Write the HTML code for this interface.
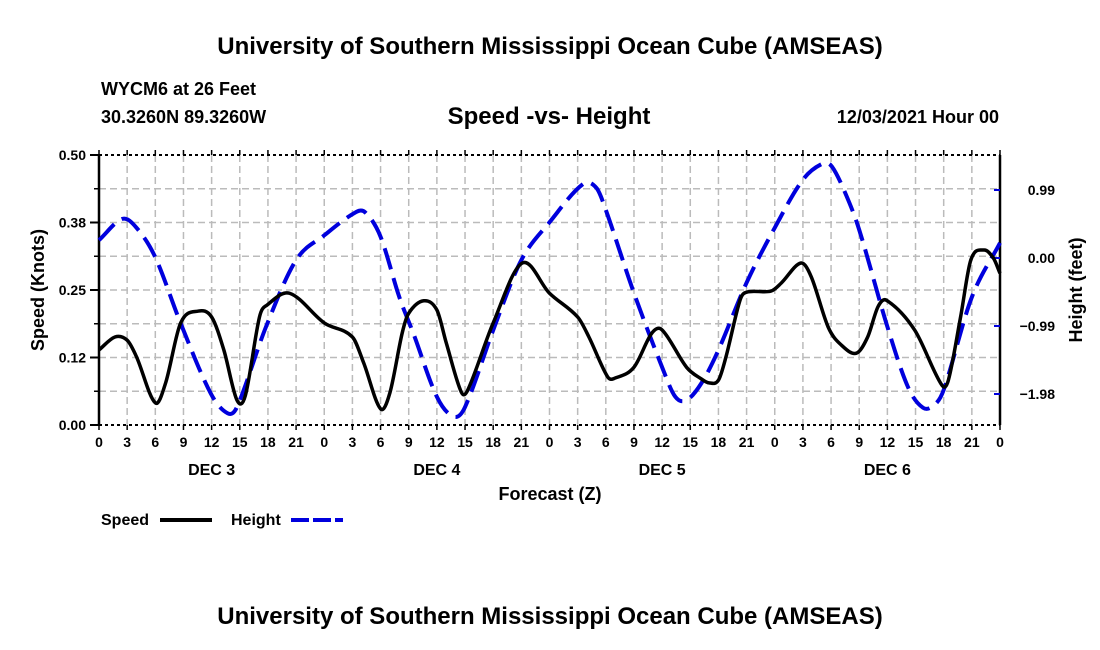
<!DOCTYPE html>
<html><head><meta charset="utf-8"><style>
body{margin:0;background:#fff;}
svg{display:block;font-family:"Liberation Sans",sans-serif;font-weight:bold;}
</style></head><body>
<svg id="c" width="1100" height="650" viewBox="0 0 1100 650">
<text x="550" y="54" font-size="24" text-anchor="middle">University of Southern Mississippi Ocean Cube (AMSEAS)</text>
<text x="101" y="95" font-size="18">WYCM6 at 26 Feet</text>
<text x="101" y="123" font-size="18">30.3260N  89.3260W</text>
<text x="549" y="124" font-size="24" text-anchor="middle">Speed -vs- Height</text>
<text x="999" y="123" font-size="18" text-anchor="end">12/03/2021 Hour 00</text>
<g id="grid"></g>
<g id="axes"></g>
<g id="series"></g>
<text x="550" y="500" font-size="18" text-anchor="middle">Forecast (Z)</text>
<text transform="translate(44,290) rotate(-90)" font-size="18" text-anchor="middle">Speed (Knots)</text>
<text transform="translate(1082,290) rotate(-90)" font-size="18" text-anchor="middle">Height (feet)</text>
<g><text x="101" y="525" font-size="16">Speed</text><line x1="160" y1="520" x2="212" y2="520" stroke="#000" stroke-width="4"/></g>
<g><text x="231" y="525" font-size="16">Height</text><line x1="291" y1="520" x2="343" y2="520" stroke="#0000dd" stroke-width="4" stroke-dasharray="18,4"/></g>
<text x="550" y="624" font-size="24" text-anchor="middle">University of Southern Mississippi Ocean Cube (AMSEAS)</text>
</svg>
<script>
const speedHours=[0,1.7,3,4,6,7.1,8.7,10.6,12,13.3,14.7,15.6,17.1,17.9,20.3,24,27,28.2,30,31,32.3,33,34.6,36,37,38.6,39.3,42,45.1,48,51,52.2,54.2,55,57,58.9,60,62.6,64.2,65,66,66.8,68.3,69,71.6,72.7,74.8,75.9,77.7,79.1,80.7,81.9,83,83.9,86.9,89.8,90.5,91.8,92.9,94.3,95.3,96];
const speedValues=[0.139,0.163,0.157,0.126,0.041,0.078,0.189,0.211,0.200,0.139,0.046,0.055,0.200,0.222,0.244,0.189,0.163,0.115,0.030,0.060,0.170,0.207,0.230,0.213,0.152,0.061,0.065,0.189,0.300,0.244,0.200,0.163,0.089,0.087,0.107,0.170,0.176,0.107,0.085,0.078,0.083,0.126,0.231,0.246,0.248,0.263,0.300,0.274,0.181,0.148,0.133,0.163,0.219,0.231,0.176,0.074,0.083,0.200,0.306,0.324,0.309,0.281];
const heightHours=[0,2.5,4,6,8.7,11.9,13.7,14.7,17.8,21,24,27.4,28.4,30,32,33.5,36,37.8,39,42,45,48,51.6,53,54,57,60,61.4,62.6,64.2,66,69,72,75,77.2,78.1,79.5,81,84,86.2,87.8,89,90,93,96];
const heightValues=[0.26,0.57,0.44,0.01,-0.95,-1.97,-2.26,-2.17,-1.0,-0.03,0.33,0.67,0.66,0.31,-0.57,-1.1,-2.02,-2.31,-2.17,-1.05,-0.03,0.52,1.08,1.02,0.70,-0.51,-1.59,-2.02,-2.07,-1.82,-1.34,-0.36,0.44,1.14,1.38,1.33,0.95,0.41,-1.0,-1.88,-2.18,-2.14,-1.92,-0.57,0.22];
const xTickLabels=["0","3","6","9","12","15","18","21"];
const dayLabels=["DEC 3","DEC 4","DEC 5","DEC 6"];
const leftTicks=[0,0.125,0.25,0.375,0.5];
const leftTickLabels=["0.00","0.12","0.25","0.38","0.50"];
const rightTicks=[0.99,0,-0.99,-1.98];
const rightTickLabels=["0.99","0.00","\u22120.99","\u22121.98"];

const L=99,R=1000,T=155,B=425,NS="http://www.w3.org/2000/svg";
const x=h=>L+(R-L)*h/96;
const yS=v=>B-(B-T)*v/0.5;
const yH=v=>258-68*v/0.99;
function mk(tag,attrs,parent){const e=document.createElementNS(NS,tag);for(const k in attrs)e.setAttribute(k,attrs[k]);parent.appendChild(e);return e;}
const grid=document.getElementById('grid'),axes=document.getElementById('axes'),series=document.getElementById('series');
for(let i=1;i<8;i++){const l=mk('line',{x1:L,x2:R,y1:yS(i*0.0625),y2:yS(i*0.0625),stroke:'#bbb','stroke-width':1.5,'stroke-dasharray':'7,4'},grid);

}
for(let h=3;h<96;h+=3){const l=mk('line',{x1:x(h),x2:x(h),y1:T,y2:B,stroke:'#bbb','stroke-width':1.5,'stroke-dasharray':'7,4'},grid);

}
mk('line',{x1:L,x2:R,y1:T,y2:T,stroke:'#000','stroke-width':2,'stroke-dasharray':'3,3'},axes);
mk('line',{x1:L,x2:R,y1:B,y2:B,stroke:'#000','stroke-width':2,'stroke-dasharray':'3,3'},axes);
mk('line',{x1:L,x2:L,y1:T,y2:B,stroke:'#000','stroke-width':2.5},axes);
mk('line',{x1:R,x2:R,y1:T,y2:B,stroke:'#000','stroke-width':2.5},axes);
for(let h=0;h<=96;h+=3){mk('line',{x1:x(h),x2:x(h),y1:B,y2:B+5,stroke:'#000','stroke-width':1.5},axes);mk('line',{x1:x(h),x2:x(h),y1:T,y2:T-5,stroke:'#000','stroke-width':1.5},axes);
const t=mk('text',{x:x(h),y:B+22,'font-size':14,'text-anchor':'middle'},axes);t.textContent=xTickLabels[(h/3)%8];

}
dayLabels.forEach((d,i)=>{const t=mk('text',{x:x(12+24*i),y:B+50,'font-size':16,'text-anchor':'middle'},axes);t.textContent=d;

});
for(let i=0;i<=8;i++)mk('line',{x1:L-5,x2:L,y1:yS(i*0.0625),y2:yS(i*0.0625),stroke:'#000','stroke-width':1.5},axes);
leftTicks.forEach((v,i)=>{mk('line',{x1:L-9,x2:L,y1:yS(v),y2:yS(v),stroke:'#000','stroke-width':2},axes);
const t=mk('text',{x:L-13,y:yS(v)+5,'font-size':14,'text-anchor':'end'},axes);t.textContent=leftTickLabels[i];

});
rightTicks.forEach((v,i)=>{mk('line',{x1:R,x2:R-6,y1:yH(v),y2:yH(v),stroke:'#0000dd','stroke-width':2},axes);
const t=mk('text',{x:R+55,y:yH(v)+5,'font-size':14,'text-anchor':'end'},axes);t.textContent=rightTickLabels[i];

});
function path(hs,vs,fy){const p=hs.map((h,i)=>[x(h),fy(vs[i])]);const n=p.length;const m=[];
for(let i=0;i<n;i++){const a=p[Math.max(0,i-1)],b=p[Math.min(n-1,i+1)];m.push((b[1]-a[1])/(b[0]-a[0]));}
let d=`M${p[0][0]},${p[0][1]}`;
for(let i=0;i<n-1;i++){const dx=(p[i+1][0]-p[i][0])/3;
d+=` C${p[i][0]+dx},${p[i][1]+m[i]*dx} ${p[i+1][0]-dx},${p[i+1][1]-m[i+1]*dx} ${p[i+1][0]},${p[i+1][1]}`;}return d;}
const hl=mk('path',{d:path(heightHours,heightValues,yH),fill:'none',stroke:'#0000dd','stroke-width':4,'stroke-dasharray':'22,9'},series);


const sl=mk('path',{d:path(speedHours,speedValues,yS),fill:'none',stroke:'#000','stroke-width':3.5,'stroke-linejoin':'round'},series);


</script>
</body></html>
